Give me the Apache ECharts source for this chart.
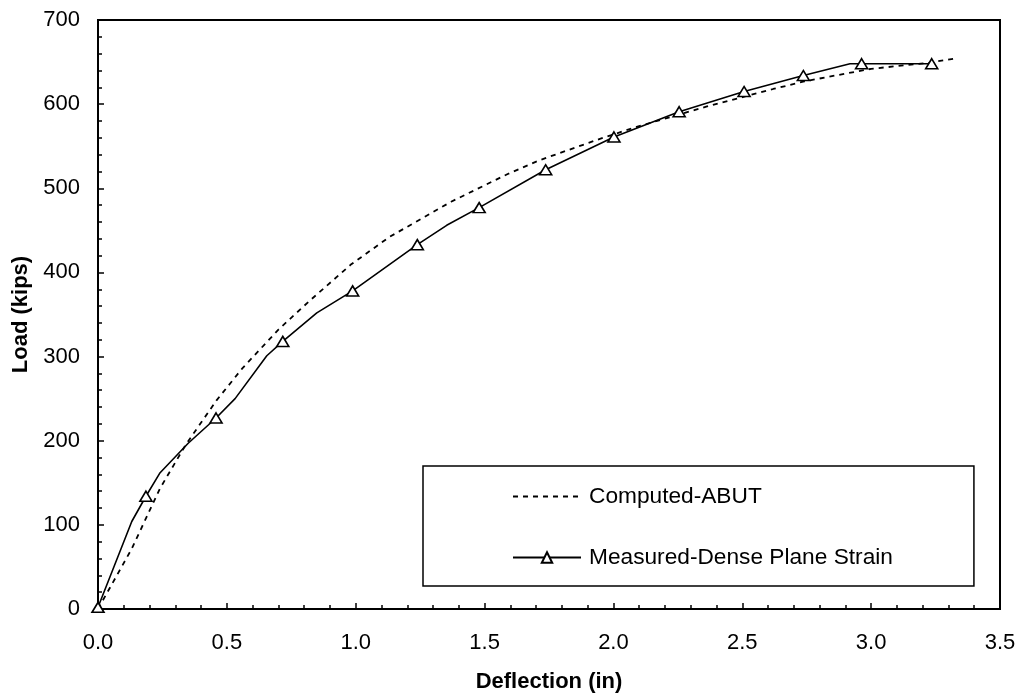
<!DOCTYPE html>
<html>
<head>
<meta charset="utf-8">
<script src="https://cdn.jsdelivr.net/npm/echarts@6/dist/echarts.min.js"></script>
<style>
  html, body { margin: 0; padding: 0; background: #fff; }
  #chart { width: 1020px; height: 696px; }
</style>
</head>
<body>
<div id="chart"></div>
<script>
// Load-deflection response: computed (ABUT) vs measured (dense sand, plane strain)
const computedName = 'Computed-ABUT';
const computedDeflection = [0, 0.13, 0.24, 0.34, 0.46, 0.56, 0.70, 0.82, 0.98, 1.13, 1.37, 1.59, 1.71, 1.95, 2.09, 2.36, 2.62, 2.74, 3.00, 3.22, 3.32];
const computedLoad       = [0, 71, 143, 195, 248, 286, 332, 366, 409, 442, 484, 517, 533, 559, 573, 597, 618, 627, 642, 649, 654];

const measuredName = 'Measured-Dense Plane Strain';
const measuredDeflection = [0, 0.131, 0.186, 0.241, 0.350, 0.458, 0.532, 0.655, 0.717, 0.849, 0.988, 1.239, 1.353, 1.479, 1.737, 2.002, 2.255, 2.507, 2.737, 2.918, 2.963, 3.235];
const measuredLoad       = [2, 104, 134, 162, 197, 227, 250, 301, 318, 352, 378, 433, 456, 477, 522, 561, 591, 615, 634, 648, 648, 648];
// 1 = reading drawn with a triangle marker
const measuredMarked     = [1, 0, 1, 0, 0, 1, 0, 0, 1, 0, 1, 1, 0, 1, 1, 1, 1, 1, 1, 0, 1, 1];

const xTicks = [0, 0.5, 1.0, 1.5, 2.0, 2.5, 3.0, 3.5];
const yTicks = [0, 100, 200, 300, 400, 500, 600, 700];

const xTitle = 'Deflection (in)';
const yTitle = 'Load (kips)';

const FONT = '"Liberation Sans", Arial, sans-serif';

const computedData = computedDeflection.map((x, i) => [x, computedLoad[i]]);
const measuredData = measuredDeflection.map((x, i) => ({
  value: [x, measuredLoad[i]],
  symbol: measuredMarked[i] ? 'triangle' : 'none'
}));

const chart = echarts.init(document.getElementById('chart'), null, { renderer: 'canvas' });

chart.setOption({
  animation: false,
  backgroundColor: '#fff',
  grid: {
    left: 98, right: 20, top: 20, bottom: 87,
    outerBoundsMode: 'none',
    containLabel: false,
    show: true, borderColor: '#000', borderWidth: 2, backgroundColor: 'transparent'
  },
  legend: {
    orient: 'vertical',
    left: 423, top: 466,
    padding: [19, 81, 17, 89],
    itemGap: 38,
    itemWidth: 68,
    itemHeight: 13,
    selectedMode: false,
    backgroundColor: '#fff',
    borderColor: '#000',
    borderWidth: 1.5,
    borderRadius: 0,
    textStyle: { fontFamily: FONT, fontSize: 22.7, color: '#000', lineHeight: 22, padding: [0, 0, 0, 3] },
    data: [
      // dashed line only, no marker in the key
      { name: computedName, itemStyle: { opacity: 0 } },
      { name: measuredName }
    ]
  },
  xAxis: {
    type: 'value',
    min: xTicks[0], max: xTicks[xTicks.length - 1], interval: 0.5,
    name: xTitle, nameLocation: 'middle', nameGap: 62,
    nameTextStyle: { fontFamily: FONT, fontSize: 22, fontWeight: 'bold', color: '#000' },
    axisLine: { show: true, onZero: false, lineStyle: { color: '#000', width: 2 } },
    axisTick: { show: true, inside: true, length: 6, lineStyle: { color: '#000', width: 1.5 } },
    minorTick: { show: true, splitNumber: 5, length: 4, lineStyle: { color: '#000', width: 1.5 } },
    splitLine: { show: false },
    axisLabel: {
      fontFamily: FONT, fontSize: 22, color: '#000', margin: 23,
      formatter: v => v.toFixed(1)
    }
  },
  yAxis: {
    type: 'value',
    min: yTicks[0], max: yTicks[yTicks.length - 1], interval: 100,
    name: yTitle, nameLocation: 'middle', nameGap: 64,
    nameTextStyle: { fontFamily: FONT, fontSize: 22, fontWeight: 'bold', color: '#000' },
    axisLine: { show: true, onZero: false, lineStyle: { color: '#000', width: 2 } },
    axisTick: { show: true, inside: true, length: 6, lineStyle: { color: '#000', width: 1.5 } },
    minorTick: { show: true, splitNumber: 5, length: 4, lineStyle: { color: '#000', width: 1.5 } },
    splitLine: { show: false },
    axisLabel: { fontFamily: FONT, fontSize: 22, color: '#000', margin: 18 }
  },
  series: [
    {
      name: computedName,
      type: 'line',
      data: computedData,
      symbol: 'none',
      smooth: false,
      lineStyle: { color: '#000', width: 1.8, type: [5, 5] },
      itemStyle: { color: '#000' },
      z: 2
    },
    {
      name: measuredName,
      type: 'line',
      data: measuredData,
      symbol: 'triangle',
      symbolSize: [12, 10],
      showAllSymbol: true,
      smooth: false,
      lineStyle: { color: '#000', width: 1.6 },
      itemStyle: { color: '#fff', borderColor: '#000', borderWidth: 1.6 },
      z: 3
    }
  ]
});
</script>
</body>
</html>
